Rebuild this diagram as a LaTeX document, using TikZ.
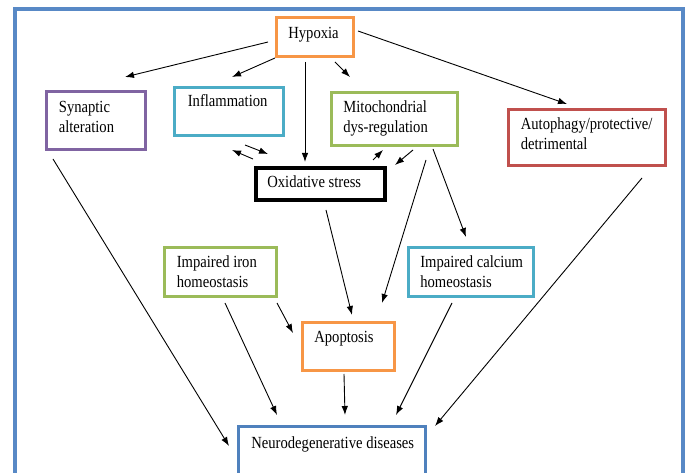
\documentclass[tikz,border=0pt]{standalone}
\usepackage{fontspec}
\setmainfont{Liberation Serif}[FakeStretch=0.86]
\usepackage{xcolor}
\usepackage{tikz}
\usetikzlibrary{calc,arrows.meta}
\definecolor{hyporange}{HTML}{F79646}
\definecolor{synpurple}{HTML}{8064A2}
\definecolor{infcyan}{HTML}{4BACC6}
\definecolor{mitgreen}{HTML}{9BBB59}
\definecolor{autred}{HTML}{C0504D}
\definecolor{neublue}{HTML}{4F81BD}
\definecolor{frameblue}{RGB}{88,137,198}
\tikzset{every picture/.style={line width=0.75pt},
  box/.style={draw=#1, line width=3pt, fill=white, inner sep=0pt},
  txt/.style={anchor=base west, inner sep=0pt, align=left, font=\fontsize{17}{20}\selectfont},
  arr/.style={-{Latex[length=9pt,width=6.5pt]}, line width=0.9pt}}

\begin{document}
\begin{tikzpicture}[x=1pt,y=1pt,yscale=-1,xscale=1]
    \useasboundingbox (0,0) rectangle (689,473);
    \clip (0,0) rectangle (689,473);
    \draw [draw=frameblue, line width=4pt] (15.3,9.5) rectangle (682.5,495);

    \node [box=hyporange, minimum width=77, minimum height=39] (hyp) at (315,37) {};
    \node [box=synpurple, minimum width=99, minimum height=58] (syn) at (96,120.5) {};
    \node [box=infcyan, minimum width=109, minimum height=48] (infl) at (229,111.5) {};
    \node [box=mitgreen, minimum width=126, minimum height=53] (mito) at (394.5,119) {};
    \node [box=autred, minimum width=157, minimum height=56] (auto) at (587,137.5) {};
    \node [box=black, line width=4pt, minimum width=129, minimum height=32] (oxi) at (320.5,184) {};
    \node [box=mitgreen, minimum width=112, minimum height=49] (iron) at (220.5,272) {};
    \node [box=infcyan, minimum width=125, minimum height=49] (calc) at (471,272) {};
    \node [box=hyporange, minimum width=92, minimum height=48] (apop) at (348.5,346.5) {};
    \node [box=neublue, minimum width=187, minimum height=58] (neuro) at (332,456) {};

    \node [txt] (hyp-t) at (288,38.5) {Hypoxia};
    \node [txt] (syn-t) at (58.5,133) {Synaptic\\alteration};
    \node [txt] (infl-t) at (187.5,107) {Inflammation};
    \node [txt] (mito-t) at (343,133) {Mitochondrial\\dys-regulation};
    \node [txt] (auto-t) at (520.5,150) {Autophagy/protective/\\detrimental};
    \node [txt] (oxi-t) at (267,187.5) {Oxidative stress};
    \node [txt] (iron-t) at (176.5,288) {Impaired iron\\homeostasis};
    \node [txt] (calc-t) at (420,288) {Impaired calcium\\homeostasis};
    \node [txt] (apop-t) at (314,342.5) {Apoptosis};
    \node [txt] (neuro-t) at (251,448) {Neurodegenerative diseases};

    \draw [arr] ($(hyp)+(-47,5)$) -- ($(syn)+(29,-43.5)$);
    \draw [arr] ($(hyp)+(-40,21)$) -- ($(infl)+(3,-34.5)$);
    \draw [arr] ($(hyp)+(-10,25)$) -- ($(oxi)+(-15.5,-22)$);
    \draw [arr] ($(hyp)+(20,25)$) -- ($(mito)+(-44.5,-42)$);
    \draw [arr] ($(hyp)+(43,-6)$) -- ($(auto)+(-20,-33.5)$);
    \draw [arr] ($(oxi)+(-67.5,-25)$) -- ($(infl)+(3,38.5)$);
    \draw [arr] ($(infl)+(16,33.5)$) -- ($(oxi)+(-52.5,-30)$);
    \draw [arr] ($(oxi)+(52.5,-24)$) -- ($(mito)+(-11.5,31)$);
    \draw [arr] ($(mito)+(18.5,31)$) -- ($(oxi)+(74.5,-19)$);
    \draw [arr] ($(mito)+(31.5,41)$) -- ($(apop)+(33.5,-43.5)$);
    \draw [arr] ($(mito)+(38.5,30)$) -- ($(calc)+(-5,-35)$);
    \draw [arr] ($(oxi)+(5.5,26)$) -- ($(apop)+(3.5,-31.5)$);
    \draw [arr] ($(syn)+(-43,38.5)$) -- ($(neuro)+(-103,-10)$);
    \draw [arr] ($(iron)+(4.5,31)$) -- ($(neuro)+(-55,-41)$);
    \draw [arr] ($(iron)+(56.5,31)$) -- ($(apop)+(-55.5,-13.5)$);
    \draw [arr] ($(apop)+(-4.5,27.5)$) -- ($(neuro)+(13,-41)$);
    \draw [arr] ($(calc)+(-19,31)$) -- ($(neuro)+(64,-41)$);
    \draw [arr] ($(auto)+(55,40.5)$) -- ($(neuro)+(103,-30)$);
\end{tikzpicture}
\end{document}
